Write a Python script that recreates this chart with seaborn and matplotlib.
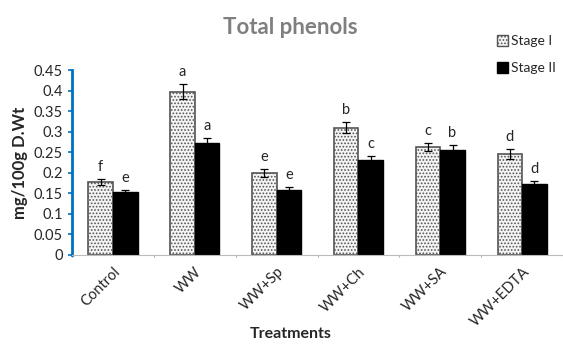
import numpy as np
import pandas as pd
import matplotlib
matplotlib.use("Agg")
import matplotlib.pyplot as plt
import seaborn as sns
from matplotlib.patches import Patch

treatments = ['Control', 'WW', 'WW+Sp', 'WW+Ch', 'WW+SA', 'WW+EDTA']
stage1 = [0.178, 0.397, 0.200, 0.310, 0.262, 0.246]
stage2 = [0.152, 0.272, 0.158, 0.232, 0.256, 0.172]
err1 = [0.008, 0.018, 0.010, 0.013, 0.010, 0.012]
err2 = [0.007, 0.012, 0.007, 0.010, 0.012, 0.008]
letters1 = ['f', 'a', 'e', 'b', 'c', 'd']
letters2 = ['e', 'a', 'e', 'c', 'b', 'd']

df = pd.DataFrame({
    'Treatment': treatments * 2,
    'Stage': ['Stage I'] * 6 + ['Stage II'] * 6,
    'Value': stage1 + stage2,
})

sns.set_style('white')
plt.rcParams['font.family'] = ['Lato', 'DejaVu Sans']
plt.rcParams['hatch.color'] = '#8a8a8a'
plt.rcParams['hatch.linewidth'] = 0.8

fig = plt.figure(figsize=(5.63, 3.45), dpi=100)
ax = fig.add_axes([0.128, 0.261, 0.872, 0.536])

sns.barplot(data=df, x='Treatment', y='Value', hue='Stage',
            palette={'Stage I': '#f4f4f4', 'Stage II': 'black'},
            width=0.6, gap=0, legend=False, ax=ax)

n = len(treatments)
for i, p in enumerate(ax.patches[:2 * n]):
    if i < n:
        p.set_hatch('.....')
        p.set_edgecolor('#555555')
        p.set_linewidth(1.2)
    else:
        p.set_edgecolor('black')

bars = ax.patches[:2 * n]
vals = stage1 + stage2
errs = err1 + err2
labs = letters1 + letters2
for p, v, e, l in zip(bars, vals, errs, labs):
    xc = p.get_x() + p.get_width() / 2
    ax.errorbar(xc, v, yerr=e, fmt='none', ecolor='black', elinewidth=0.9,
                capsize=3, capthick=0.9)
    ax.text(xc, v + e + 0.012, l, ha='center', va='bottom', fontsize=10.5)

ax.set_xlim(-0.5, 5.5)
ax.set_ylim(0, 0.45)
ax.set_yticks(np.arange(0, 0.46, 0.05))
ax.set_yticklabels(['0', '0.05', '0.1', '0.15', '0.2', '0.25', '0.3', '0.35', '0.4', '0.45'])
ax.tick_params(axis='y', labelsize=10.5, direction='out', length=3, color='#0070c0', left=True, width=1.2)
ax.tick_params(axis='x', labelsize=10.5, length=0, pad=7)
ax.set_xticks(range(n))
ax.set_xticklabels(treatments, rotation=45, ha='right', rotation_mode='anchor')

for s in ['top', 'right']:
    ax.spines[s].set_visible(False)
ax.spines['left'].set_color('#0070c0')
ax.spines['left'].set_linewidth(2)
ax.spines['bottom'].set_color('#bbbbbb')
ax.spines['bottom'].set_linewidth(0.8)
for k in range(n + 1):
    ax.plot([k - 0.5, k - 0.5], [0, -0.006], color='#bbbbbb', lw=0.8, clip_on=False)

ax.set_ylabel('mg/100g D.Wt', fontsize=12, fontweight='bold', labelpad=4)
ax.set_xlabel('Treatments', fontsize=11.5, fontweight='bold')
ax.xaxis.set_label_coords(0.445, -0.39)

fig.text(0.515, 0.92, 'Total phenols', ha='center', va='center',
         fontsize=16, fontweight='bold', color='#7f7f7f')

handles = [Patch(facecolor='#f4f4f4', edgecolor='#555555', hatch='.....', label='Stage I'),
           Patch(facecolor='black', edgecolor='black', label='Stage II')]
fig.legend(handles=handles, loc='upper left', bbox_to_anchor=(0.86, 0.935),
           frameon=False, fontsize=10, handlelength=0.8, handleheight=0.8,
           handletextpad=0.2, labelspacing=1.1)

fig.savefig('out.png', dpi=100)
